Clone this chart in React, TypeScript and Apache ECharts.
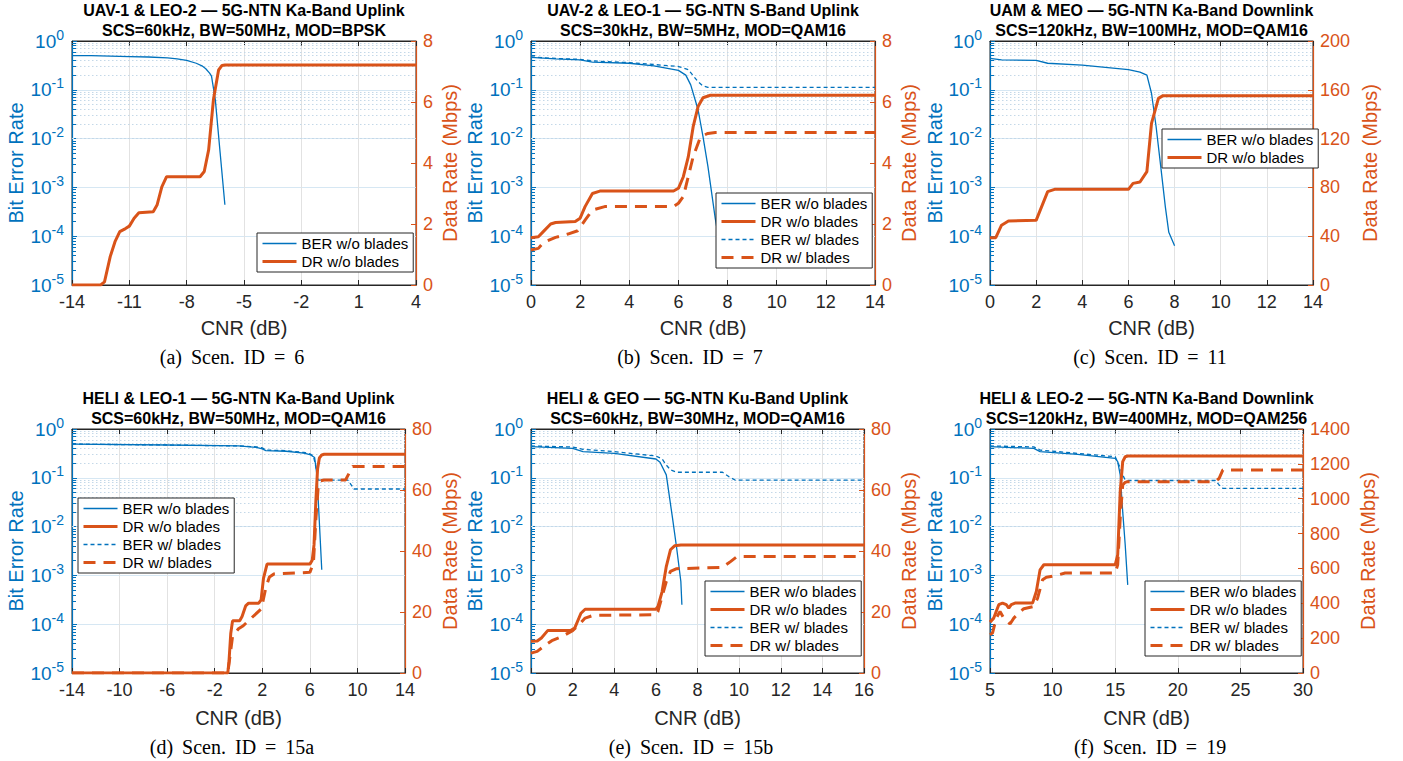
import React, { useEffect, useRef } from 'react';
import * as echarts from 'echarts';

const BLUE = '#0072BD';
const ORANGE = '#D95319';
const DARK = '#262626';
const FONT = '"Liberation Sans", Arial, Helvetica, sans-serif';
const SERIF = '"Liberation Serif", "Times New Roman", serif';

const N_BER_WO = 'BER w/o blades';
const N_DR_WO = 'DR w/o blades';
const N_BER_W = 'BER w/ blades';
const N_DR_W = 'DR w/ blades';

// ---------- (a) Scen. ID = 6 ----------
const A_BER_WO_X = [-14, -13, -12, -11, -10, -9, -8.5, -8, -7.5, -7.2, -7, -6.8, -6.7, -6.5, -6.25, -6.0];
const A_BER_WO_Y = [0.5, 0.5, 0.49, 0.48, 0.47, 0.45, 0.43, 0.4, 0.35, 0.31, 0.27, 0.22, 0.19, 0.062, 0.0052, 0.00044];
const A_DR_WO_X = [-14, -12.5, -12.3, -12.0, -11.75, -11.5, -11.2, -11.0, -10.75, -10.5, -9.75, -9.55, -9.3, -9.05, -7.3, -7.08, -6.85, -6.6, -6.33, -6.15, -6.0, 4];
const A_DR_WO_Y = [0, 0, 0.1, 0.93, 1.42, 1.75, 1.85, 1.93, 2.19, 2.37, 2.4, 2.62, 3.22, 3.55, 3.55, 3.72, 4.43, 6.07, 7.05, 7.2, 7.21, 7.21];

// ---------- (b) Scen. ID = 7 ----------
const B_BER_WO_X = [0, 1, 2, 2.5, 4, 5, 6, 6.3, 6.5, 6.8, 7.0, 7.2, 7.5, 7.8];
const B_BER_WO_Y = [0.46, 0.43, 0.41, 0.37, 0.35, 0.31, 0.25, 0.2, 0.126, 0.039, 0.011, 0.0027, 0.00023, 0.00003];
const B_DR_WO_X = [0, 0.3, 0.5, 0.8, 1.0, 1.8, 2.0, 2.2, 2.5, 2.8, 5.8, 6.0, 6.2, 6.4, 6.6, 6.8, 7.0, 7.3, 14];
const B_DR_WO_Y = [1.55, 1.58, 1.75, 2.0, 2.05, 2.08, 2.19, 2.57, 3.0, 3.08, 3.08, 3.17, 3.55, 4.2, 5.19, 5.85, 6.14, 6.22, 6.22];
const B_BER_W_X = [0, 1, 2, 2.5, 4, 5, 6, 6.4, 6.8, 7.0, 7.2, 14];
const B_BER_W_Y = [0.47, 0.44, 0.42, 0.39, 0.36, 0.33, 0.3, 0.26, 0.146, 0.12, 0.112, 0.112];
const B_DR_W_X = [0, 0.3, 0.5, 1.0, 1.5, 1.9, 2.2, 2.5, 3.0, 5.8, 6.0, 6.2, 6.4, 6.6, 6.9, 7.2, 7.5, 14];
const B_DR_W_Y = [1.15, 1.2, 1.39, 1.56, 1.67, 1.78, 2.13, 2.46, 2.57, 2.57, 2.68, 2.9, 3.55, 4.21, 4.86, 4.97, 5.0, 5.0];

// ---------- (c) Scen. ID = 11 ----------
const C_BER_WO_X = [0, 0.5, 2, 2.5, 4, 6, 6.5, 6.8, 7.0, 7.2, 7.4, 7.6, 7.75, 8.0];
const C_BER_WO_Y = [0.44, 0.41, 0.4, 0.35, 0.32, 0.26, 0.23, 0.2, 0.085, 0.0175, 0.0027, 0.0004, 0.00012, 0.000064];
const C_DR_WO_X = [0, 0.25, 0.5, 0.8, 2.0, 2.5, 2.8, 6.0, 6.2, 6.5, 6.8, 7.0, 7.3, 7.5, 14];
const C_DR_WO_Y = [38.8, 38.8, 49, 52.5, 53, 76.5, 78.4, 78.4, 83.3, 84.4, 92.9, 132.5, 153, 155.2, 155.2];

// ---------- (d) Scen. ID = 15a ----------
const D_BER_WO_X = [-14, -6, 0, 1.5, 2, 2.3, 4, 5.5, 6, 6.2, 6.4, 6.5, 6.6, 6.7, 7.0];
const D_BER_WO_Y = [0.49, 0.47, 0.45, 0.42, 0.39, 0.36, 0.35, 0.32, 0.3, 0.28, 0.26, 0.17, 0.11, 0.037, 0.0013];
const D_DR_WO_X = [-14, -0.9, -0.8, -0.65, -0.5, 0.1, 0.3, 0.6, 0.85, 1.7, 1.9, 2.1, 2.4, 6.0, 6.2, 6.35, 6.5, 6.65, 6.8, 7.0, 7.2, 14];
const D_DR_WO_Y = [0, 0, 3.8, 13, 17.1, 17.1, 18.5, 22, 22.9, 22.9, 24, 31, 35.7, 35.7, 37, 42, 56, 67, 70.5, 71.5, 71.7, 71.7];
const D_BER_W_X = [-14, -6, 0, 1.5, 2, 2.3, 4, 5.5, 6, 6.3, 6.5, 6.7, 9.2, 9.7, 14];
const D_BER_W_Y = [0.49, 0.47, 0.45, 0.43, 0.41, 0.37, 0.36, 0.33, 0.31, 0.28, 0.17, 0.09, 0.09, 0.059, 0.059];
const D_DR_W_X = [-14, -0.9, -0.7, -0.5, 0.0, 0.4, 0.8, 1.0, 1.9, 2.0, 2.3, 2.6, 3.0, 6.0, 6.3, 6.5, 6.7, 6.9, 7.2, 9.0, 9.3, 9.6, 14];
const D_DR_W_Y = [0, 0, 6, 12, 14.5, 15.5, 17, 17.7, 21, 22.5, 28, 31.5, 32.5, 33, 36, 50, 61, 63, 63.3, 63.3, 65.5, 67.7, 67.7];

// ---------- (e) Scen. ID = 15b ----------
const E_BER_WO_X = [0, 2, 2.5, 4, 6, 6.2, 6.5, 6.8, 7.0, 7.2, 7.25];
const E_BER_WO_Y = [0.434, 0.4, 0.344, 0.318, 0.243, 0.208, 0.115, 0.0149, 0.0036, 0.00075, 0.00025];
const E_DR_WO_X = [0, 0.3, 0.5, 0.8, 1.9, 2.1, 2.4, 2.6, 6.0, 6.1, 6.3, 6.5, 6.7, 6.9, 7.2, 16];
const E_DR_WO_Y = [10.4, 10.5, 11.5, 13.9, 13.9, 14.7, 19.6, 20.9, 20.9, 21.8, 26.7, 34.9, 40.4, 41.7, 42.0, 42.0];
const E_BER_W_X = [0, 2, 2.5, 4, 6, 6.3, 6.5, 6.7, 7.0, 9.2, 9.5, 9.8, 16];
const E_BER_W_Y = [0.449, 0.428, 0.384, 0.344, 0.28, 0.243, 0.183, 0.145, 0.13, 0.13, 0.106, 0.09, 0.09];
const E_DR_W_X = [0, 0.3, 0.6, 1.0, 1.5, 2.0, 2.3, 2.6, 3.0, 6.0, 6.1, 6.3, 6.5, 6.7, 7.0, 9.2, 9.6, 9.9, 16];
const E_DR_W_Y = [6.5, 7.1, 8.7, 10.6, 12.0, 13.9, 15.8, 18.0, 18.9, 19.1, 20.2, 25.1, 30.0, 33.3, 34.2, 34.6, 36.6, 38.2, 38.2];

// ---------- (f) Scen. ID = 19 ----------
const F_BER_WO_X = [5, 8.5, 9, 12, 15, 15.2, 15.4, 15.6, 15.8, 16.0];
const F_BER_WO_Y = [0.434, 0.4, 0.344, 0.303, 0.251, 0.215, 0.115, 0.0203, 0.0042, 0.00064];
const F_DR_WO_X = [5, 5.3, 5.7, 6.0, 6.3, 6.5, 6.7, 7.0, 8.4, 8.7, 9.0, 9.3, 15.0, 15.2, 15.4, 15.6, 15.8, 16.0, 30];
const F_DR_WO_Y = [292, 315, 392, 401, 392, 372, 392, 401, 401, 468, 592, 621, 621, 678, 1041, 1213, 1241, 1245, 1245];
const F_BER_W_X = [5, 8.5, 9, 15, 15.3, 15.6, 15.8, 16, 23, 23.3, 23.6, 30];
const F_BER_W_Y = [0.449, 0.43, 0.37, 0.27, 0.183, 0.115, 0.09, 0.088, 0.088, 0.0714, 0.061, 0.061];
const F_DR_W_X = [5, 5.2, 5.5, 5.8, 6.1, 6.4, 6.6, 6.9, 7.3, 7.7, 8.5, 8.8, 9.2, 9.5, 10, 10.5, 11, 15.0, 15.2, 15.4, 15.6, 15.8, 16, 23, 23.3, 23.6, 30];
const F_DR_W_Y = [220, 229, 315, 353, 315, 296, 281, 315, 344, 369, 382, 430, 535, 549, 555, 564, 574, 574, 621, 888, 1079, 1094, 1098, 1098, 1117, 1165, 1165];

// ---------- panel texts / axes ----------
const TITLES_1 = [
  'UAV-1 & LEO-2 — 5G-NTN Ka-Band Uplink',
  'UAV-2 & LEO-1 — 5G-NTN S-Band Uplink',
  'UAM & MEO — 5G-NTN Ka-Band Downlink',
  'HELI & LEO-1 — 5G-NTN Ka-Band Uplink',
  'HELI & GEO — 5G-NTN Ku-Band Uplink',
  'HELI & LEO-2 — 5G-NTN Ka-Band Downlink',
];
const TITLES_2 = [
  'SCS=60kHz, BW=50MHz, MOD=BPSK',
  'SCS=30kHz, BW=5MHz, MOD=QAM16',
  'SCS=120kHz, BW=100MHz, MOD=QAM16',
  'SCS=60kHz, BW=50MHz, MOD=QAM16',
  'SCS=60kHz, BW=30MHz, MOD=QAM16',
  'SCS=120kHz, BW=400MHz, MOD=QAM256',
];
const CAPTIONS = ['(a) Scen. ID = 6', '(b) Scen. ID = 7', '(c) Scen. ID = 11', '(d) Scen. ID = 15a', '(e) Scen. ID = 15b', '(f) Scen. ID = 19'];
const X_MIN = [-14, 0, 0, -14, 0, 5];
const X_MAX = [4, 14, 14, 14, 16, 30];
const X_STEP = [3, 2, 2, 4, 2, 5];
const DR_MAX = [8, 8, 200, 80, 80, 1400];
const DR_STEP = [2, 2, 40, 20, 20, 200];

type Kind = 'berwo' | 'berw' | 'drwo' | 'drw';
type S = { name: string; kind: Kind; xs: number[]; ys: number[] };

const PANEL_SERIES: S[][] = [
  [
    { name: N_BER_WO, kind: 'berwo', xs: A_BER_WO_X, ys: A_BER_WO_Y },
    { name: N_DR_WO, kind: 'drwo', xs: A_DR_WO_X, ys: A_DR_WO_Y },
  ],
  [
    { name: N_BER_WO, kind: 'berwo', xs: B_BER_WO_X, ys: B_BER_WO_Y },
    { name: N_DR_WO, kind: 'drwo', xs: B_DR_WO_X, ys: B_DR_WO_Y },
    { name: N_BER_W, kind: 'berw', xs: B_BER_W_X, ys: B_BER_W_Y },
    { name: N_DR_W, kind: 'drw', xs: B_DR_W_X, ys: B_DR_W_Y },
  ],
  [
    { name: N_BER_WO, kind: 'berwo', xs: C_BER_WO_X, ys: C_BER_WO_Y },
    { name: N_DR_WO, kind: 'drwo', xs: C_DR_WO_X, ys: C_DR_WO_Y },
  ],
  [
    { name: N_BER_WO, kind: 'berwo', xs: D_BER_WO_X, ys: D_BER_WO_Y },
    { name: N_DR_WO, kind: 'drwo', xs: D_DR_WO_X, ys: D_DR_WO_Y },
    { name: N_BER_W, kind: 'berw', xs: D_BER_W_X, ys: D_BER_W_Y },
    { name: N_DR_W, kind: 'drw', xs: D_DR_W_X, ys: D_DR_W_Y },
  ],
  [
    { name: N_BER_WO, kind: 'berwo', xs: E_BER_WO_X, ys: E_BER_WO_Y },
    { name: N_DR_WO, kind: 'drwo', xs: E_DR_WO_X, ys: E_DR_WO_Y },
    { name: N_BER_W, kind: 'berw', xs: E_BER_W_X, ys: E_BER_W_Y },
    { name: N_DR_W, kind: 'drw', xs: E_DR_W_X, ys: E_DR_W_Y },
  ],
  [
    { name: N_BER_WO, kind: 'berwo', xs: F_BER_WO_X, ys: F_BER_WO_Y },
    { name: N_DR_WO, kind: 'drwo', xs: F_DR_WO_X, ys: F_DR_WO_Y },
    { name: N_BER_W, kind: 'berw', xs: F_BER_W_X, ys: F_BER_W_Y },
    { name: N_DR_W, kind: 'drw', xs: F_DR_W_X, ys: F_DR_W_Y },
  ],
];

// ---------- layout (pixels) ----------
const LAYOUT = [
  { left: 72, top: 41, width: 344, height: 244, lgap: 46, rgap: 24, xgap: 33, legL: 257, legT: 233, capX: 232, capY: 357, tY: 10 },
  { left: 531, top: 41, width: 344, height: 244, lgap: 46, rgap: 24, xgap: 33, legL: 716, legT: 193, capX: 690, capY: 357, tY: 10 },
  { left: 990, top: 41, width: 323, height: 244, lgap: 43, rgap: 47, xgap: 33, legL: 1162, legT: 129, capX: 1150, capY: 357, tY: 10 },
  { left: 72, top: 429, width: 333, height: 244, lgap: 46, rgap: 35, xgap: 35, legL: 78, legT: 498, capX: 232, capY: 747, tY: 398 },
  { left: 531, top: 429, width: 333, height: 244, lgap: 46, rgap: 35, xgap: 35, legL: 705, legT: 581, capX: 691, capY: 747, tY: 398 },
  { left: 990, top: 429, width: 313, height: 244, lgap: 43, rgap: 55, xgap: 35, legL: 1145, legT: 581, capX: 1150, capY: 747, tY: 398 },
];

const STYLE: Record<Kind, any> = {
  berwo: { color: BLUE, width: 1.3, type: 'solid' },
  berw: { color: BLUE, width: 1.3, type: [4, 3] },
  drwo: { color: ORANGE, width: 3, type: 'solid' },
  drw: { color: ORANGE, width: 3, type: [12, 8] },
};

function minorValues(): number[] {
  const out: number[] = [];
  for (let d = -5; d <= -1; d++) {
    for (let k = 2; k <= 9; k++) out.push(k * Math.pow(10, d));
  }
  return out;
}

function textEl(text: string, x: number, y: number, font: string) {
  return {
    type: 'text',
    x,
    y,
    silent: true,
    z: 20,
    style: {
      text,
      font,
      fill: '#000',
      textAlign: 'center',
      textVerticalAlign: 'middle',
      align: 'center',
      verticalAlign: 'middle',
    },
  };
}

function spaced(s: string) {
  return s.split(' ').join('\u00a0\u2009');
}

function buildOption() {
  const grid: any[] = [];
  const xAxis: any[] = [];
  const yAxis: any[] = [];
  const series: any[] = [];
  const legend: any[] = [];
  const graphic: any[] = [];
  const minors = minorValues();

  PANEL_SERIES.forEach((list, i) => {
    const L = LAYOUT[i];
    const xMin = X_MIN[i];
    const span = X_MAX[i] - xMin;
    const cx = L.left + L.width / 2;

    grid.push({ left: L.left, top: L.top, width: L.width, height: L.height, show: true, borderColor: DARK, borderWidth: 1, backgroundColor: 'transparent' });

    xAxis.push({
      gridIndex: i,
      type: 'value',
      position: 'bottom',
      min: 0,
      max: span,
      interval: X_STEP[i],
      axisLine: { show: true, onZero: false, lineStyle: { color: DARK, width: 1 } },
      axisTick: { show: true, inside: true, length: 5, lineStyle: { color: DARK } },
      axisLabel: {
        color: DARK,
        fontSize: 18,
        fontFamily: FONT,
        margin: 8,
        formatter: (v: number) => String(Math.round(v + xMin)),
      },
      splitLine: { show: true, lineStyle: { color: '#e2e2e2', width: 1 } },
      name: 'CNR (dB)',
      nameLocation: 'middle',
      nameGap: L.xgap,
      nameTextStyle: { fontSize: 20, color: DARK, fontFamily: FONT },
    });
    xAxis.push({
      gridIndex: i,
      type: 'value',
      position: 'top',
      min: 0,
      max: span,
      interval: X_STEP[i],
      axisLine: { show: true, onZero: false, lineStyle: { color: DARK, width: 1 } },
      axisTick: { show: true, inside: true, length: 5, lineStyle: { color: DARK } },
      axisLabel: { show: false },
      splitLine: { show: false },
    });

    yAxis.push({
      gridIndex: i,
      type: 'log',
      logBase: 10,
      min: 1e-5,
      max: 1,
      position: 'left',
      axisLine: { show: true, onZero: false, lineStyle: { color: BLUE, width: 1.2 } },
      axisTick: { show: true, inside: true, length: 5, lineStyle: { color: BLUE } },
      axisLabel: {
        margin: 8,
        formatter: (v: number) => `{b|10}{e|${Math.round(Math.log10(v))}}`,
        rich: {
          b: { fontSize: 19, color: BLUE, fontFamily: FONT },
          e: { fontSize: 14, color: BLUE, fontFamily: FONT, padding: [0, 0, 13, 0] },
        },
      },
      splitLine: { show: true, lineStyle: { color: '#d6e7f3', width: 1 } },
      name: 'Bit Error Rate',
      nameLocation: 'middle',
      nameGap: L.lgap,
      nameTextStyle: { fontSize: 20, color: BLUE, fontFamily: FONT },
    });
    yAxis.push({
      gridIndex: i,
      type: 'value',
      min: 0,
      max: DR_MAX[i],
      interval: DR_STEP[i],
      position: 'right',
      axisLine: { show: true, onZero: false, lineStyle: { color: ORANGE, width: 1.2 } },
      axisTick: { show: true, inside: true, length: 5, lineStyle: { color: ORANGE } },
      axisLabel: { color: ORANGE, fontSize: 18, fontFamily: FONT, margin: 7, formatter: (v: number) => String(v) },
      splitLine: { show: false },
      name: 'Data Rate (Mbps)',
      nameLocation: 'middle',
      nameGap: L.rgap,
      nameTextStyle: { fontSize: 20, color: ORANGE, fontFamily: FONT },
    });

    const tickLen = (4 / L.width) * span;
    list.forEach((s, k) => {
      const isBer = s.kind === 'berwo' || s.kind === 'berw';
      const st = STYLE[s.kind];
      const item: any = {
        type: 'line',
        name: s.name,
        xAxisIndex: 2 * i,
        yAxisIndex: isBer ? 2 * i : 2 * i + 1,
        data: s.xs.map((x, j) => [x - xMin, s.ys[j]]),
        symbol: 'none',
        showSymbol: false,
        smooth: false,
        lineStyle: { color: st.color, width: st.width, type: st.type },
        itemStyle: { color: st.color },
        z: isBer ? 2 : 3,
        animation: false,
      };
      if (k === 0) {
        const grids = minors.map((v) => ({ yAxis: v }));
        const ticks = minors.map((v) => [
          { xAxis: 0, yAxis: v, lineStyle: { color: BLUE, width: 1, type: 'solid' } },
          { xAxis: tickLen, yAxis: v },
        ]);
        item.markLine = {
          silent: true,
          symbol: 'none',
          animation: false,
          label: { show: false },
          emphasis: { disabled: true },
          lineStyle: { color: '#c4d8e8', width: 1, type: [1.5, 2.5] },
          data: [...grids, ...ticks],
          z: 1,
        };
      }
      series.push(item);
    });

    legend.push({
      orient: 'vertical',
      left: L.legL,
      top: L.legT,
      itemWidth: 34,
      itemHeight: 14,
      itemGap: 3,
      padding: [3, 5, 3, 4],
      borderColor: DARK,
      borderWidth: 1,
      borderRadius: 0,
      backgroundColor: '#fff',
      selectedMode: false,
      z: 10,
      textStyle: { fontSize: 15, color: '#000', fontFamily: FONT },
      data: list.map((s) => ({
        name: s.name,
        lineStyle: { color: STYLE[s.kind].color, width: STYLE[s.kind].width, type: STYLE[s.kind].type },
        itemStyle: { color: STYLE[s.kind].color, opacity: 0 },
      })),
    });

    graphic.push(textEl(TITLES_1[i], cx, L.tY, `bold 16px ${FONT}`));
    graphic.push(textEl(TITLES_2[i], cx, L.tY + 20, `bold 16px ${FONT}`));
    graphic.push(textEl(spaced(CAPTIONS[i]), L.capX, L.capY, `20px ${SERIF}`));
  });

  return {
    animation: false,
    backgroundColor: '#fff',
    grid,
    xAxis,
    yAxis,
    series,
    legend,
    graphic,
  };
}

export default function App() {
  const ref = useRef<HTMLDivElement>(null);
  useEffect(() => {
    document.body.style.margin = '0';
    const chart = echarts.init(ref.current as HTMLDivElement, undefined, { renderer: 'svg' });
    chart.setOption(buildOption() as any);
    return () => chart.dispose();
  }, []);
  return <div ref={ref} style={{ width: 1403, height: 761, background: '#fff' }} />;
}
